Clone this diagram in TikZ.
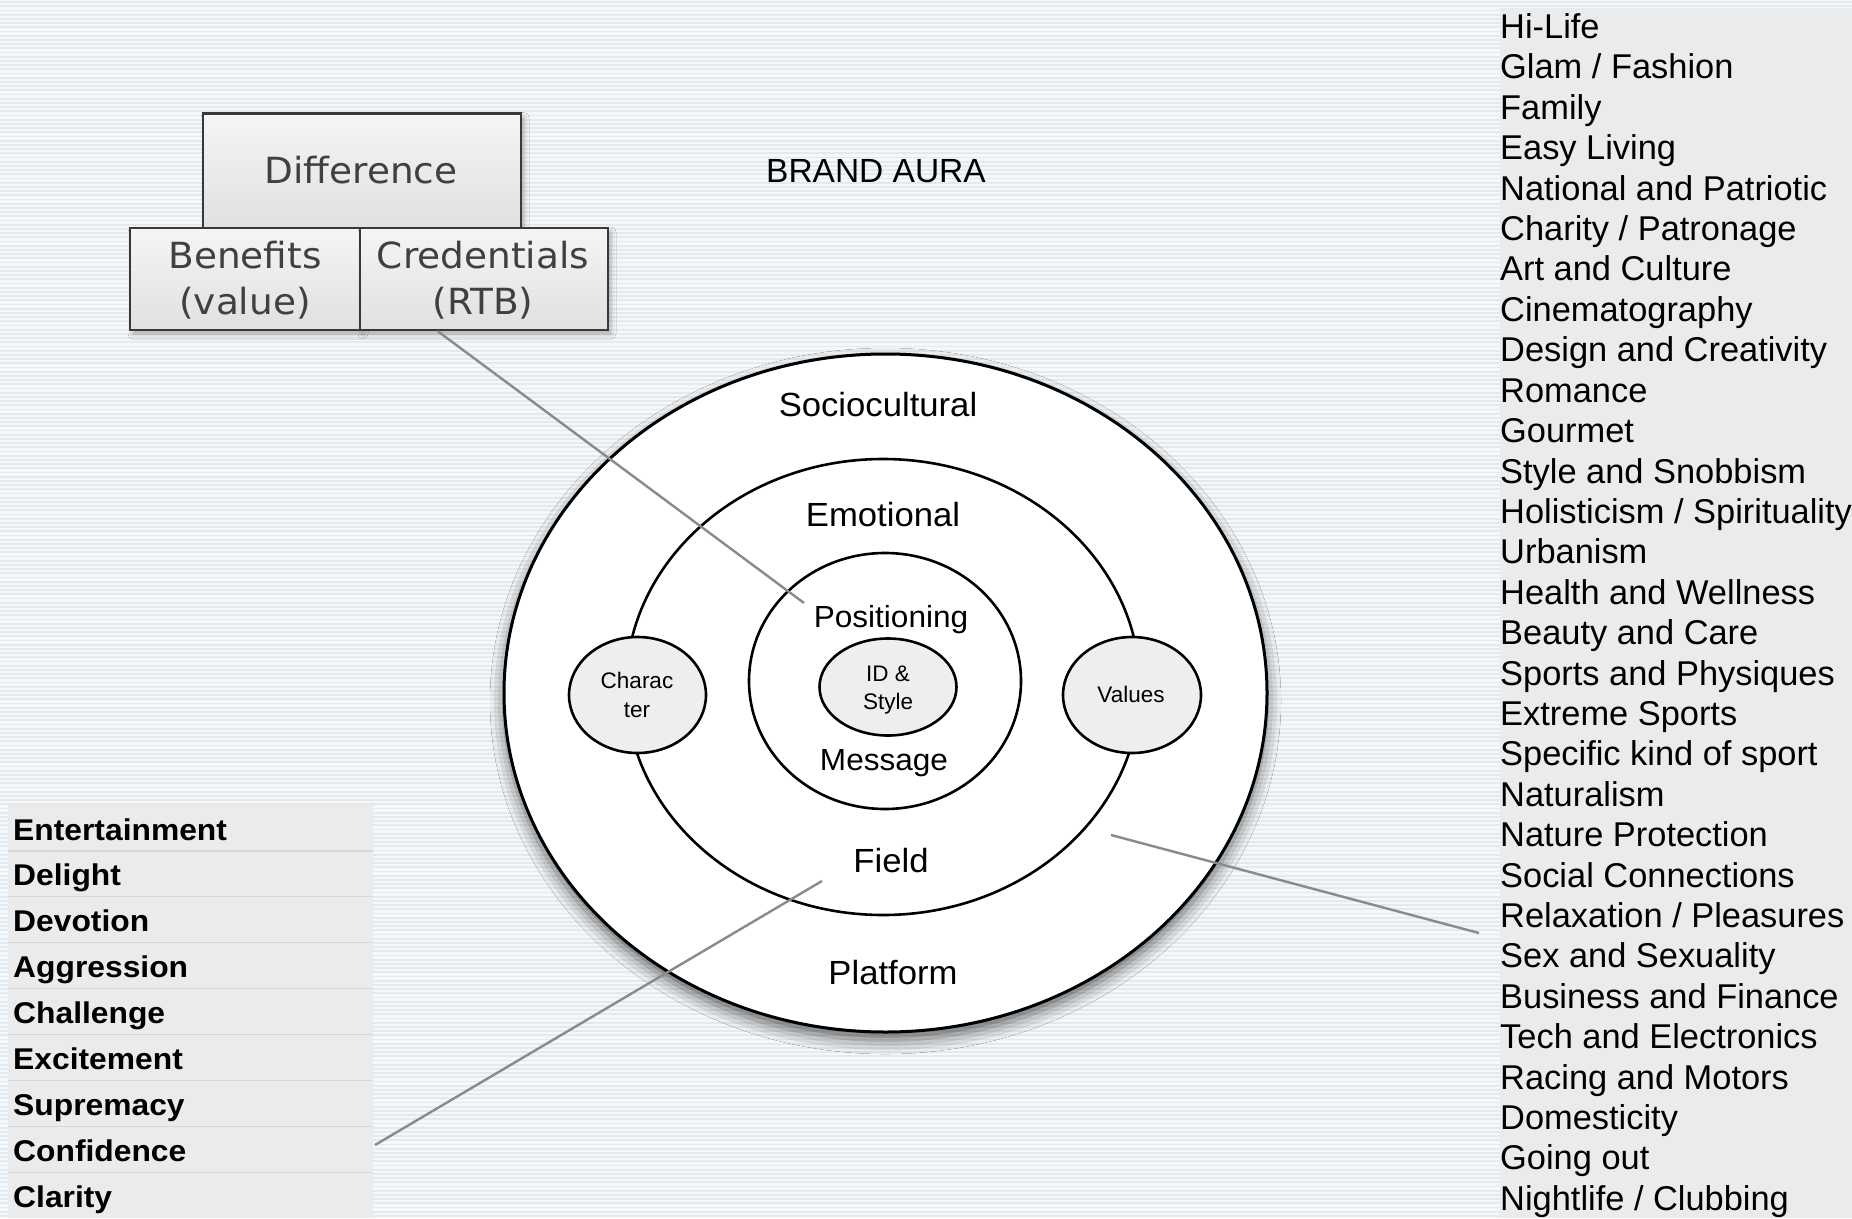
\documentclass[tikz,border=0pt]{standalone}
\usepackage{fontspec}
\setmainfont{Liberation Sans}
\newfontfamily\boxfont{DejaVu Sans}[FakeStretch=1.04]
\newfontfamily\ringfont{Liberation Sans}[FakeStretch=1.035]
\newfontfamily\listfont{Liberation Sans}[FakeStretch=1.06]
\usetikzlibrary{shapes.geometric,shadows.blur}

\definecolor{stripeA}{HTML}{F4F8FB}
\definecolor{stripeB}{HTML}{E3E9ED}
\definecolor{panel}{HTML}{EBEBEB}
\definecolor{rowrule}{HTML}{D8D8D8}
\definecolor{linkgrey}{HTML}{8A8A8A}
\definecolor{bubble}{HTML}{EEEEEE}
\definecolor{boxink}{HTML}{404040}
\definecolor{boxedge}{HTML}{383838}

\begin{document}
\begin{tikzpicture}[x=1pt,y=-1pt,
  ring/.style={ellipse, draw=black, line width=3pt, fill=white, inner sep=0pt,
    blur shadow={shadow xshift=0pt, shadow yshift=-8pt, shadow blur radius=14pt, shadow opacity=60}},
  innerring/.style={ellipse, draw=black, line width=2.6pt, fill=white, inner sep=0pt},
  bubblering/.style={ellipse, draw=black, line width=2.6pt, fill=bubble, inner sep=0pt},
  ringlabel/.style={anchor=base, inner sep=0pt, font=\ringfont\fontsize{33.5}{40}\selectfont},
  corelabel/.style={anchor=base, inner sep=0pt, font=\ringfont\fontsize{30.5}{36}\selectfont},
  titlelabel/.style={anchor=base, inner sep=0pt, font=\fontsize{33.5}{40}\selectfont},
  smalllabel/.style={anchor=base, inner sep=0pt, font=\fontsize{22.5}{28}\selectfont},
  tagbox/.style={rectangle, draw=boxedge, line width=2.5pt, top color=white!96!black,
    bottom color=white!88!black, inner sep=0pt,
    blur shadow={shadow xshift=3pt, shadow yshift=-4pt, shadow blur radius=5pt, shadow opacity=30}},
  tagtext/.style={anchor=base, inner sep=0pt, text=boxink, font=\boxfont\fontsize{36}{42}\selectfont},
  leftitem/.style={anchor=base west, inner sep=0pt, font=\listfont\bfseries\fontsize{30}{36}\selectfont},
  rightitem/.style={anchor=base west, inner sep=0pt, font=\fontsize{34.4}{41}\selectfont},
  link/.style={draw=linkgrey, line width=2.4pt}
]
% page and pinstripe background
\useasboundingbox (0,0) rectangle (1852,1218);
\fill[stripeA] (0,0) rectangle (1852,1218);
\foreach \i in {0,...,290}
  \fill[stripeB] (0,{\i*4.2+1.2}) rectangle (1852,{\i*4.2+2.9});

% right-hand list of territories
\fill[panel] (1500,8) rectangle (1852,1218);
\foreach \t [count=\k from 0] in {Hi-Life, Glam / Fashion, Family, Easy Living,
    National and Patriotic, Charity / Patronage, Art and Culture, Cinematography,
    Design and Creativity, Romance, Gourmet, Style and Snobbism,
    Holisticism / Spirituality, Urbanism, Health and Wellness, Beauty and Care,
    Sports and Physiques, Extreme Sports, Specific kind of sport, Naturalism,
    Nature Protection, Social Connections, Relaxation / Pleasures, Sex and Sexuality,
    Business and Finance, Tech and Electronics, Racing and Motors, Domesticity,
    Going out, Nightlife / Clubbing}
  \node[rightitem] (r\k) at (1500,{38.5+40.41*\k}) {\t};

% left-hand list of emotions
\fill[panel] (8,805) rectangle (373,1218);
\foreach \k in {1,...,8}
  \draw[rowrule, line width=1.2pt] (8,{805+45.9*\k}) -- (373,{805+45.9*\k});
\foreach \t [count=\k from 0] in {Entertainment, Delight, Devotion, Aggression,
    Challenge, Excitement, Supremacy, Confidence, Clarity}
  \node[leftitem] (l\k) at (13,{805+45.9*\k+35}) {\t};

% difference / benefits / credentials boxes
\node[tagbox, minimum width=318pt, minimum height=115pt] (diff) at (362,171) {};
\node[tagbox, minimum width=230pt, minimum height=102pt] (bene) at (245,279) {};
\node[tagbox, minimum width=248pt, minimum height=102pt] (cred) at (484,279) {};
\node[tagtext] (difft) at (361,183) {Difference};
\node[tagtext] (benet1) at (245,268) {Benefits};
\node[tagtext] (benet2) at (245,314) {(value)};
\node[tagtext] (credt1) at (483,268) {Credentials};
\node[tagtext] (credt2) at (483,314) {(RTB)};

% title
\node[titlelabel] (title) at (876,182) {BRAND AURA};

% concentric rings
\node[ring, minimum width=763pt, minimum height=678pt] (outer) at (885.5,693) {};
\node[innerring, minimum width=514pt, minimum height=456pt] (emo) at (883,687) {};
\node[innerring, minimum width=272pt, minimum height=256pt] (pos) at (885,681) {};
\node[bubblering, minimum width=137pt, minimum height=97pt] (ids) at (888,687) {};
\node[bubblering, minimum width=137pt, minimum height=116pt] (chr) at (637.5,695) {};
\node[bubblering, minimum width=138pt, minimum height=116pt] (val) at (1132,695) {};

\node[ringlabel] (socio) at (878,416) {Sociocultural};
\node[ringlabel] (emot) at (883,526) {Emotional};
\node[corelabel] (posi) at (891,627) {Positioning};
\node[corelabel] (mess) at (884,770) {Message};
\node[ringlabel] (fiel) at (891,872) {Field};
\node[ringlabel] (plat) at (893,984) {Platform};
\node[smalllabel] (idst1) at (888,681) {ID \&};
\node[smalllabel] (idst2) at (888,709) {Style};
\node[smalllabel] (chrt1) at (637,688) {Charac};
\node[smalllabel] (chrt2) at (637,717) {ter};
\node[smalllabel] (valt) at (1131,702) {Values};

% leader lines
\coordinate (posend) at (804,603);
\coordinate (fieldend) at (822,881);
\coordinate (confend) at (375,1145);
\coordinate (platend) at (1111,835);
\coordinate (listend) at (1479,933);
\draw[link] ([xshift=79pt]cred.south west) -- (posend);
\draw[link] (fieldend) -- (confend);
\draw[link] (platend) -- (listend);
\end{tikzpicture}
\end{document}
